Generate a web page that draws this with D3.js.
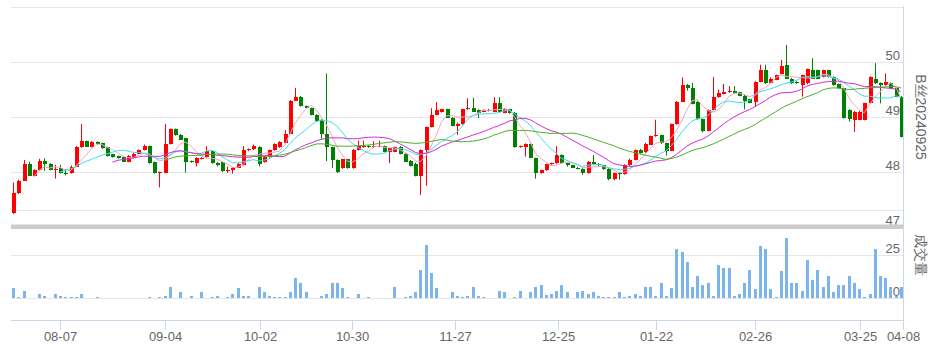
<!DOCTYPE html>
<html>
<head>
<meta charset="utf-8">
<script src="https://cdn.jsdelivr.net/npm/d3@7/dist/d3.min.js"></script>
<style>
  body { margin: 0; background: #fff; }
  svg { display: block; font-family: "Liberation Sans", Arial, sans-serif; }
</style>
</head>
<body>
<div id="main"></div>
<script>
const priceTitle = 'B丝20240925';
const volumeTitle = '成交量';

// [open, high, low, close], one row per trading day
const ohlc = [
  [47.25, 47.81, 47.24, 47.61], [47.61, 47.86, 47.6, 47.84], [47.84, 48.22, 47.84, 48.15], [48.15, 48.19, 47.93, 47.93],
  [47.93, 48.05, 47.92, 48.04], [48.03, 48.24, 48.02, 48.2], [48.2, 48.25, 48.02, 48.15], [48.15, 48.16, 48.03, 48.04],
  [48.04, 48.13, 47.88, 48.05], [48.07, 48.13, 47.97, 47.98], [47.99, 48.05, 47.94, 47.96], [47.98, 48.12, 47.97, 48.1],
  [48.1, 48.47, 48.09, 48.45], [48.45, 48.87, 48.44, 48.56], [48.56, 48.57, 48.46, 48.46], [48.46, 48.56, 48.45, 48.55],
  [48.55, 48.56, 48.5, 48.51], [48.52, 48.53, 48.42, 48.43], [48.45, 48.46, 48.28, 48.29], [48.32, 48.33, 48.26, 48.27],
  [48.29, 48.3, 48.24, 48.25], [48.27, 48.28, 48.18, 48.19], [48.19, 48.31, 48.18, 48.3], [48.26, 48.35, 48.25, 48.33],
  [48.33, 48.41, 48.32, 48.4], [48.4, 48.5, 48.39, 48.47], [48.47, 48.48, 48.15, 48.16], [48.18, 48.19, 47.97, 47.98],
  [47.98, 48.01, 47.72, 48.0], [47.99, 48.87, 47.98, 48.51], [48.51, 48.79, 48.5, 48.78], [48.78, 48.79, 48.66, 48.67],
  [48.68, 48.69, 48.58, 48.59], [48.61, 48.62, 47.99, 48.18], [48.2, 48.21, 48.17, 48.18], [48.17, 48.27, 48.1, 48.25],
  [48.24, 48.27, 48.23, 48.26], [48.27, 48.47, 48.26, 48.39], [48.39, 48.4, 48.15, 48.16], [48.17, 48.18, 48.1, 48.12],
  [48.19, 48.2, 48.0, 48.02], [48.02, 48.1, 47.98, 48.04], [48.03, 48.09, 47.97, 48.08], [48.08, 48.17, 48.07, 48.15],
  [48.13, 48.47, 48.12, 48.4], [48.4, 48.43, 48.38, 48.42], [48.41, 48.5, 48.4, 48.47], [48.46, 48.47, 48.1, 48.15],
  [48.18, 48.29, 48.17, 48.28], [48.27, 48.41, 48.26, 48.4], [48.4, 48.52, 48.39, 48.51], [48.45, 48.56, 48.44, 48.55],
  [48.53, 48.76, 48.52, 48.7], [48.7, 49.31, 48.69, 49.3], [49.3, 49.53, 49.29, 49.36], [49.37, 49.38, 49.19, 49.2],
  [49.2, 49.21, 49.15, 49.16], [49.16, 49.17, 49.03, 49.04], [49.04, 49.05, 48.91, 48.92], [48.95, 48.96, 48.6, 48.69],
  [48.69, 49.79, 48.2, 48.45], [48.45, 48.46, 48.07, 48.22], [48.22, 48.23, 47.98, 48.0], [48.07, 48.24, 48.06, 48.23],
  [48.23, 48.24, 48.06, 48.07], [48.07, 48.42, 48.06, 48.4], [48.4, 48.57, 48.39, 48.47], [48.45, 48.57, 48.44, 48.48],
  [48.47, 48.49, 48.44, 48.46], [48.45, 48.56, 48.44, 48.47], [48.46, 48.57, 48.45, 48.47], [48.47, 48.48, 48.36, 48.37],
  [48.37, 48.44, 48.16, 48.43], [48.37, 48.46, 48.36, 48.45], [48.46, 48.47, 48.32, 48.33], [48.33, 48.34, 48.18, 48.19],
  [48.2, 48.22, 48.1, 48.11], [48.15, 48.17, 47.92, 47.93], [47.93, 48.41, 47.58, 48.4], [48.4, 48.83, 47.75, 48.82],
  [48.82, 49.16, 48.81, 49.04], [49.04, 49.27, 49.03, 49.12], [49.1, 49.15, 49.08, 49.14], [49.14, 49.15, 48.98, 48.99],
  [48.99, 49.0, 48.83, 48.84], [48.84, 48.9, 48.67, 48.88], [48.87, 49.15, 48.86, 49.14], [49.14, 49.34, 49.13, 49.16],
  [49.16, 49.35, 49.09, 49.1], [49.12, 49.14, 48.98, 49.08], [49.1, 49.14, 49.09, 49.13], [49.12, 49.15, 49.1, 49.11],
  [49.1, 49.36, 49.09, 49.25], [49.25, 49.36, 49.09, 49.1], [49.08, 49.16, 49.07, 49.14], [49.14, 49.15, 49.06, 49.08],
  [49.08, 49.09, 48.44, 48.46], [48.46, 48.48, 48.44, 48.47], [48.46, 48.52, 48.28, 48.51], [48.51, 48.52, 48.25, 48.26],
  [48.25, 48.26, 47.88, 47.98], [47.98, 48.04, 47.97, 48.03], [48.03, 48.15, 48.02, 48.14], [48.14, 48.17, 48.13, 48.16],
  [48.16, 48.47, 48.15, 48.31], [48.31, 48.32, 48.15, 48.16], [48.16, 48.17, 48.1, 48.12], [48.12, 48.13, 48.07, 48.08],
  [48.08, 48.09, 48.05, 48.06], [48.06, 48.07, 47.95, 47.98], [47.98, 48.2, 47.97, 48.19], [48.19, 48.31, 48.14, 48.15],
  [48.15, 48.16, 48.11, 48.12], [48.12, 48.13, 48.04, 48.05], [48.06, 48.07, 47.85, 47.87], [47.87, 47.99, 47.85, 47.98],
  [47.99, 48.0, 47.86, 47.96], [47.96, 48.14, 47.95, 48.13], [48.12, 48.24, 48.11, 48.22], [48.22, 48.41, 48.21, 48.4],
  [48.4, 48.42, 48.33, 48.35], [48.36, 48.53, 48.35, 48.51], [48.5, 48.66, 48.49, 48.65], [48.65, 48.95, 48.64, 48.68],
  [48.67, 48.68, 48.51, 48.52], [48.52, 48.53, 48.3, 48.39], [48.39, 48.88, 48.38, 48.87], [48.87, 49.29, 48.86, 49.28],
  [49.28, 49.72, 49.27, 49.58], [49.58, 49.6, 49.48, 49.52], [49.52, 49.62, 49.23, 49.24], [49.28, 49.29, 48.95, 48.96],
  [48.96, 48.97, 48.72, 48.75], [48.75, 49.14, 48.74, 49.13], [49.13, 49.73, 49.12, 49.36], [49.36, 49.5, 49.35, 49.43],
  [49.42, 49.6, 49.41, 49.46], [49.45, 49.56, 49.44, 49.47], [49.47, 49.56, 49.42, 49.43], [49.45, 49.46, 49.38, 49.39],
  [49.39, 49.4, 49.14, 49.3], [49.32, 49.33, 49.25, 49.26], [49.28, 49.65, 49.18, 49.64], [49.64, 49.95, 49.63, 49.85],
  [49.85, 49.95, 49.6, 49.61], [49.62, 49.72, 49.61, 49.7], [49.68, 49.77, 49.67, 49.76], [49.79, 50.04, 49.78, 49.92],
  [49.94, 50.31, 49.69, 49.7], [49.7, 49.71, 49.6, 49.61], [49.64, 49.65, 49.6, 49.61], [49.58, 49.77, 49.37, 49.76],
  [49.61, 49.88, 49.6, 49.87], [49.85, 50.07, 49.69, 49.7], [49.85, 49.86, 49.69, 49.7], [49.73, 49.86, 49.72, 49.85],
  [49.85, 49.86, 49.72, 49.73], [49.73, 49.74, 49.57, 49.58], [49.6, 49.61, 49.51, 49.52], [49.52, 49.53, 48.97, 48.98],
  [49.13, 49.14, 48.92, 48.96], [48.95, 49.11, 48.73, 49.1], [48.95, 49.11, 48.94, 49.1], [48.95, 49.26, 48.94, 49.25],
  [49.25, 49.74, 49.24, 49.73], [49.7, 49.98, 49.6, 49.61], [49.62, 49.63, 49.25, 49.58], [49.58, 49.79, 49.57, 49.64],
  [49.62, 49.63, 49.51, 49.52], [49.52, 49.53, 49.36, 49.37], [49.37, 49.38, 48.63, 48.64]
];

const volumes = [
  5.6, 0.8, 4.3, 0, 0, 2.3, 1.2, 0, 2.3, 1.2, 0.8, 0.8, 0.8, 2.3, 0, 0, 0.8, 0, 0, 0,
  0, 0, 0, 0, 0, 0, 0.8, 0, 0.8, 1.2, 6.6, 0, 3.7, 0, 1.2, 0, 3.7, 0, 0.8, 1.2,
  0, 0.8, 2.3, 5.6, 1.2, 1.2, 0, 6.6, 3.7, 1.2, 0.8, 0.8, 0.8, 3.7, 11.4, 8.5, 3.7, 0, 0, 1.2,
  2.3, 8.5, 8.5, 5.6, 0.8, 0, 2.3, 0, 0.8, 0, 0, 0, 0, 6.6, 0, 0.8, 1.2, 3.7, 16.3, 30.8,
  14.7, 5.6, 0, 0, 3.7, 1.2, 0.8, 1.2, 6.6, 1.2, 0.8, 0, 0, 4.3, 3.7, 0, 0.8, 4.3, 0, 3.7,
  6.6, 7.4, 1.7, 2.3, 4.3, 7.4, 3.7, 0, 3.7, 4.3, 2.3, 3.7, 1.2, 0.8, 0.8, 0.8, 3.7, 0.8, 1.2, 2.3,
  1.2, 6.6, 6.6, 1.2, 8.5, 1.2, 5.6, 28.5, 26.7, 20.7, 6.6, 12.8, 7.4, 8.5, 1.2, 19, 17.6, 17.6, 1.2, 2.3,
  8.5, 16.3, 5.4, 30.4, 28.5, 5.4, 0.4, 15.7, 34.7, 8.5, 8.5, 4.3, 22, 10.5, 16.3, 6.6, 12.8, 3.7, 7.4, 7.4,
  12.8, 8.5, 5.4, 0.8, 2.3, 28.5, 12.8, 11.4, 6.6, 1.2, 6.6
];

const tickLabels = ['08-07', '09-04', '10-02', '10-30', '11-27', '12-25', '01-22', '02-26', '03-25', '04-08'];
const tickIndex = [9, 29, 47.2, 64.8, 84.7, 104.4, 123.2, 142.1, 162.1, 170.4];
const priceTicks = [47, 48, 49, 50, 51];
const priceLabels = [47, 48, 49, 50];
const volumeTicks = [0, 25];
const maPeriods = [5, 10, 20, 30];
const maColors = ['#f7a3c4', '#3fdcec', '#d62bd6', '#4cb02a'];

const width = 936;
const height = 352;
const left = 11;
const right = 903;

const svg = d3.select('#main').append('svg').attr('width', width).attr('height', height);

const x = d3.scaleLinear().domain([-0.4, ohlc.length - 1 + 0.4]).range([left, right]);
const y = d3.scaleLinear().domain([47, 51]).range([227, 7]);
const yVol = d3.scaleLinear().domain([0, 25]).range([298, 255]);

/* grid */
svg.append('g')
  .selectAll('line')
  .data(priceTicks)
  .enter()
  .append('line')
  .attr('x1', left)
  .attr('x2', right)
  .attr('y1', (d) => Math.round(y(d)) + 0.5)
  .attr('y2', (d) => Math.round(y(d)) + 0.5)
  .style('stroke', '#e6e6e6');

svg.append('line')
  .attr('x1', left).attr('x2', right)
  .attr('y1', 210.5).attr('y2', 210.5)
  .style('stroke', '#e6e6e6');

svg.append('g')
  .selectAll('line')
  .data(volumeTicks)
  .enter()
  .append('line')
  .attr('x1', left)
  .attr('x2', right)
  .attr('y1', (d) => Math.round(yVol(d)) + 0.5)
  .attr('y2', (d) => Math.round(yVol(d)) + 0.5)
  .style('stroke', '#e6e6e6');

/* axis labels (under the series) */
svg.append('g')
  .selectAll('text')
  .data(priceLabels)
  .enter()
  .append('text')
  .attr('x', 900)
  .attr('y', (d) => y(d) - 2)
  .attr('text-anchor', 'end')
  .style('font-size', '13px')
  .style('fill', '#666')
  .text((d) => d);

svg.append('g')
  .selectAll('text')
  .data(volumeTicks)
  .enter()
  .append('text')
  .attr('x', 900)
  .attr('y', (d) => yVol(d) - 2)
  .attr('text-anchor', 'end')
  .style('font-size', '13px')
  .style('fill', '#666')
  .text((d) => d);

/* separator between panes */
svg.append('rect')
  .attr('x', left).attr('y', 224.5)
  .attr('width', right - left).attr('height', 4.5)
  .style('fill', '#cccccc');

/* candles */
const candles = svg.append('g').selectAll('g')
  .data(ohlc)
  .enter()
  .append('g');

const candleColor = (d) => (d[3] >= d[0] ? '#ff0000' : '#008000');

candles.append('line')
  .attr('x1', (d, i) => Math.round(x(i)) + 0.5)
  .attr('x2', (d, i) => Math.round(x(i)) + 0.5)
  .attr('y1', (d) => y(d[1]))
  .attr('y2', (d) => y(d[2]))
  .style('stroke', candleColor)
  .style('stroke-width', 1);

candles.append('rect')
  .attr('x', (d, i) => Math.round(x(i)) - 1.5)
  .attr('width', 4)
  .attr('y', (d) => y(Math.max(d[0], d[3])))
  .attr('height', (d) => Math.max(1, Math.abs(y(d[0]) - y(d[3]))))
  .style('fill', candleColor)
  .style('shape-rendering', 'crispEdges');

/* moving averages */
const closes = ohlc.map((d) => d[3]);
maPeriods.forEach((p, k) => {
  const pts = [];
  for (let i = p - 1; i < closes.length; i += 1) {
    pts.push([i, d3.mean(closes.slice(i - p + 1, i + 1))]);
  }
  svg.append('path')
    .datum(pts)
    .attr('d', d3.line().x((d) => x(d[0])).y((d) => y(d[1])))
    .style('fill', 'none')
    .style('stroke', maColors[k])
    .style('stroke-width', 1);
});

/* volume */
svg.append('g')
  .selectAll('rect')
  .data(volumes)
  .enter()
  .append('rect')
  .attr('x', (d, i) => Math.round(x(i)) - 1)
  .attr('width', 3)
  .attr('y', (d) => yVol(d))
  .attr('height', (d) => yVol(0) - yVol(d))
  .style('fill', '#7cb5ec')
  .style('shape-rendering', 'crispEdges');

/* x axis */
svg.append('line')
  .attr('x1', left).attr('x2', right)
  .attr('y1', 320.5).attr('y2', 320.5)
  .style('stroke', '#ccd6eb');

svg.append('line')
  .attr('x1', right + 0.5).attr('x2', right + 0.5)
  .attr('y1', 6).attr('y2', 321)
  .style('stroke', '#ccd6eb');

const xTicks = svg.append('g')
  .selectAll('g')
  .data(tickLabels)
  .enter()
  .append('g')
  .attr('transform', (d, i) => `translate(${Math.round(x(tickIndex[i])) + 0.5},0)`);

xTicks.append('line')
  .attr('y1', 320).attr('y2', 330)
  .style('stroke', '#ccd6eb');

xTicks.append('text')
  .attr('y', 341)
  .attr('text-anchor', 'middle')
  .style('font-size', '13px')
  .style('fill', '#666')
  .text((d) => d);

/* axis titles */
svg.append('text')
  .attr('transform', 'translate(916,117) rotate(90)')
  .attr('text-anchor', 'middle')
  .style('font-size', '14px')
  .style('fill', '#666')
  .text(priceTitle);

svg.append('text')
  .attr('transform', 'translate(916,255) rotate(90)')
  .attr('text-anchor', 'middle')
  .style('font-size', '14px')
  .style('fill', '#666')
  .text(volumeTitle);
</script>
</body>
</html>
